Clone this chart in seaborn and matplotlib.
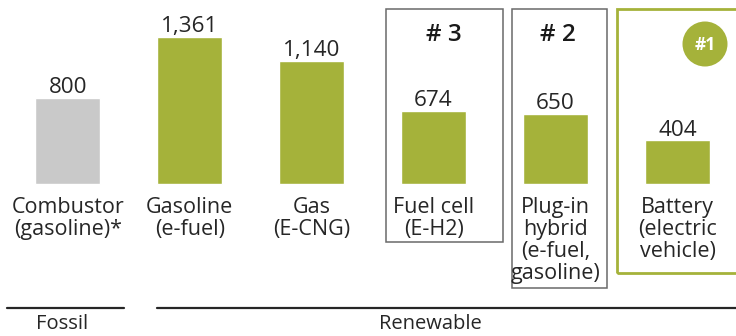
import matplotlib
matplotlib.use("Agg")
import matplotlib.pyplot as plt
from matplotlib.patches import Rectangle
import seaborn as sns

# Drive categories and CO2 values
categories = [
    "Combustor\n(gasoline)*",
    "Gasoline\n(e-fuel)",
    "Gas\n(E-CNG)",
    "Fuel cell\n(E-H2)",
    "Plug-in\nhybrid\n(e-fuel,\ngasoline)",
    "Battery\n(electric\nvehicle)",
]
values = [800, 1361, 1140, 674, 650, 404]
value_labels = ["800", "1,361", "1,140", "674", "650", "404"]
groups = ["Fossil", "Renewable"]
ranks = ["# 3", "# 2", "#1"]

OLIVE = "#a5b23a"
GREY = "#c9c9c9"
INK = "#262626"
W, H = 736, 336

sns.set_theme(style="white")
plt.rcParams["font.family"] = ["Open Sans", "DejaVu Sans"]

fig = plt.figure(figsize=(W / 100, H / 100), dpi=100)
ax = fig.add_axes([0, 0, 1, 1])

palette = [GREY] + [OLIVE] * (len(categories) - 1)
sns.barplot(x=list(range(len(categories))), y=values, hue=list(range(len(categories))),
            palette=palette, width=0.53, ax=ax, legend=False, saturation=1)

# layout: category spacing ~122 px, baseline at y=184 px, 0.108 px per unit
ax.set_xlim(-0.555, 5.48)
ax.set_ylim(-152 / 0.108, 184 / 0.108)
ax.set_axis_off()


def px(x, y):
    """Convert pixel coordinates (origin top-left) to data coordinates."""
    return ax.transData.inverted().transform((x, H - y))


# value labels above bars
for i, (v, lab) in enumerate(zip(values, value_labels)):
    ax.annotate(lab, xy=(i, v), xytext=(0, 3.5), textcoords="offset points",
                ha="center", va="baseline", fontsize=16.2, color=INK)

# category labels beneath bars
for i, cat in enumerate(categories):
    ax.annotate(cat, xy=(i, 0), xytext=(0, -9), textcoords="offset points",
                ha="center", va="top", fontsize=15.5, color=INK, linespacing=1.08)


def box(x0, y0, x1, y1, color, lw):
    (dx0, dy0), (dx1, dy1) = px(x0, y1), px(x1, y0)
    ax.add_patch(Rectangle((dx0, dy0), dx1 - dx0, dy1 - dy0, fill=False,
                           edgecolor=color, linewidth=lw, clip_on=False))


box(386, 9, 503, 242, "#6a6a6a", 1.1)
box(512, 9, 607, 288, "#6a6a6a", 1.1)
box(617, 9, 745, 273, OLIVE, 2.0)

for (cx, cy), r in zip([(444, 41), (558, 41)], ranks[:2]):
    ax.text(*px(cx, cy), r, ha="center", va="baseline", fontsize=17.5,
            color="#1a1a1a", fontweight="semibold")

# "#1" badge
ax.scatter(*px(705, 44), s=(45 * 0.72) ** 2, color=OLIVE, edgecolors="none",
           zorder=5, clip_on=False)
ax.text(*px(705, 45), ranks[2], ha="center", va="center", fontsize=12.5,
        color="white", fontweight="bold", zorder=6)

# group rules and labels
for (x0, x1), g, cx in zip([(7, 124), (157, 740)], groups, [62, 430]):
    (a, yy), (b, _) = px(x0, 308), px(x1, 308)
    ax.plot([a, b], [yy, yy], color=INK, linewidth=1.6, clip_on=False)
    ax.text(*px(cx, 329), g, ha="center", va="baseline", fontsize=14.5, color=INK)

fig.savefig("out.png", dpi=100, facecolor="white")
